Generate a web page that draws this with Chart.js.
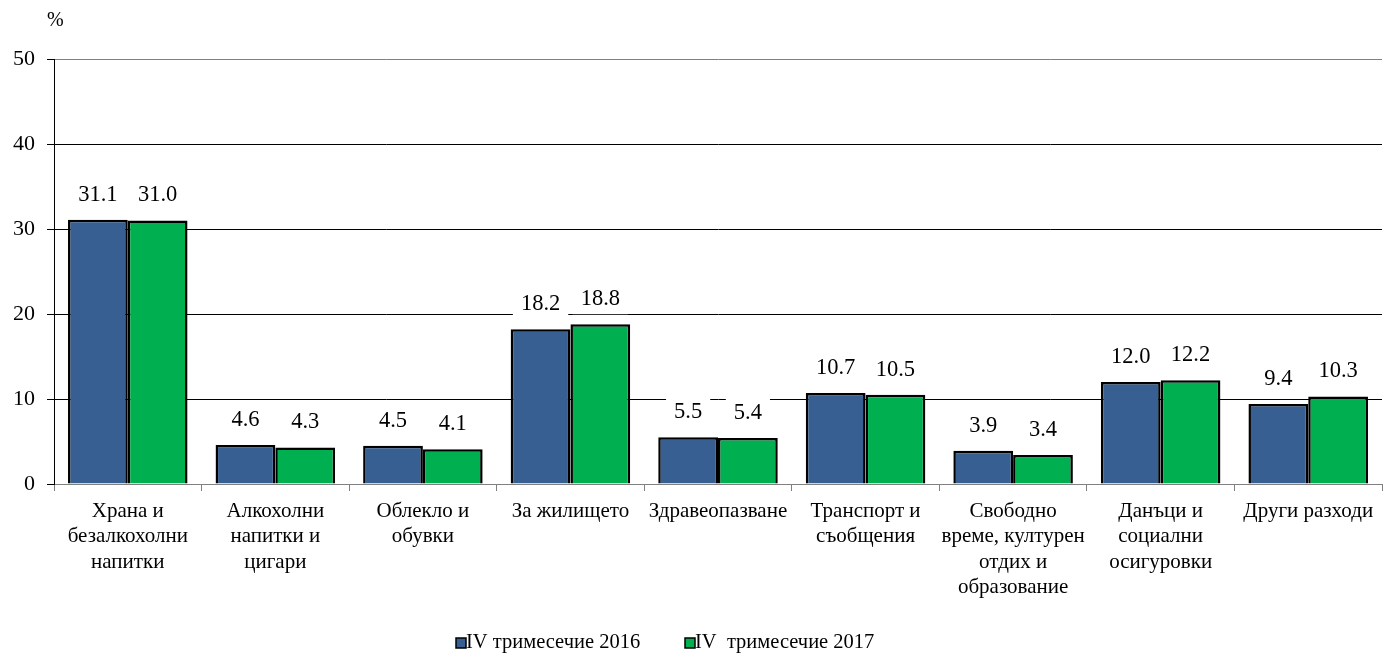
<!DOCTYPE html>
<html>
<head>
<meta charset="utf-8">
<script src="https://cdn.jsdelivr.net/npm/chart.js@4.4.1/dist/chart.umd.min.js"></script>
<style>
  html, body { margin: 0; padding: 0; background: #fff; }
  #wrap { width: 1383px; height: 664px; }
</style>
</head>
<body>
<div id="wrap"><canvas id="c" width="1383" height="664"></canvas></div>
<script>
// Household expenditure structure, Q4 2016 vs Q4 2017 (%).
const categories = [
  ['Храна и', 'безалкохолни', 'напитки'],
  ['Алкохолни', 'напитки и', 'цигари'],
  ['Облекло и', 'обувки'],
  ['За жилището'],
  ['Здравеопазване'],
  ['Транспорт и', 'съобщения'],
  ['Свободно', 'време, културен', 'отдих и', 'образование'],
  ['Данъци и', 'социални', 'осигуровки'],
  ['Други разходи'],
];
const q4_2016 = [31.1, 4.6, 4.5, 18.2, 5.5, 10.7, 3.9, 12.0, 9.4];
const q4_2017 = [31.0, 4.3, 4.1, 18.8, 5.4, 10.5, 3.4, 12.2, 10.3];
const seriesNames = ['IV тримесечие 2016', 'IV  тримесечие 2017'];
const yTicks = [0, 10, 20, 30, 40, 50];

const FONT = '"Liberation Serif", "Times New Roman", serif';
const BLUE = '#375F91';
const GREEN = '#00B050';

// value labels on a white box, drawn over the gridlines
const valueLabels = {
  id: 'valueLabels',
  afterDatasetsDraw(chart) {
    const ctx = chart.ctx;
    ctx.save();
    ctx.font = `22.5px ${FONT}`;
    ctx.textAlign = 'center';
    ctx.textBaseline = 'middle';
    chart.data.datasets.forEach((ds, di) => {
      chart.getDatasetMeta(di).data.forEach((bar, i) => {
        const txt = ds.data[i].toFixed(1);
        const w = ctx.measureText(txt).width + 16;
        const y = bar.y - 25;
        ctx.fillStyle = '#fff';
        ctx.fillRect(bar.x - w / 2, y - 15, w, 30);
      });
    });
    chart.data.datasets.forEach((ds, di) => {
      chart.getDatasetMeta(di).data.forEach((bar, i) => {
        ctx.fillStyle = '#000';
        ctx.fillText(ds.data[i].toFixed(1), bar.x, bar.y - 25);
      });
    });
    ctx.restore();
  },
};

// "%" unit label and the bottom legend
const extras = {
  id: 'extras',
  afterDraw(chart) {
    const ctx = chart.ctx;
    ctx.save();
    ctx.fillStyle = '#000';
    ctx.font = `20px ${FONT}`;
    ctx.textBaseline = 'middle';
    ctx.textAlign = 'left';
    ctx.fillText('%', 47, 21);

    ctx.font = `20.5px ${FONT}`;
    const starts = [456, 685];
    chart.data.datasets.forEach((ds, i) => {
      const x = starts[i];
      const y = 643;
      ctx.fillStyle = ds.backgroundColor;
      ctx.fillRect(x, y - 5, 10, 10);
      ctx.strokeStyle = '#000';
      ctx.lineWidth = 1.5;
      ctx.strokeRect(x, y - 5, 10, 10);
      ctx.fillStyle = '#000';
      ctx.fillText(ds.label, x + 10, y);
    });
    ctx.restore();
  },
};

new Chart(document.getElementById('c'), {
  type: 'bar',
  data: {
    labels: categories,
    datasets: [
      { label: seriesNames[0], data: q4_2016, backgroundColor: BLUE, borderColor: '#000', borderWidth: 2.5 },
      { label: seriesNames[1], data: q4_2017, backgroundColor: GREEN, borderColor: '#000', borderWidth: 2.5 },
    ],
  },
  options: {
    responsive: false,
    animation: false,
    events: [],
    datasets: { bar: { categoryPercentage: 0.81, barPercentage: 1.0 } },
    layout: { padding: { top: 59, right: 1, bottom: 0, left: 0 } },
    plugins: { legend: { display: false }, tooltip: { enabled: false } },
    scales: {
      x: {
        offset: true,
        grid: { offset: true, drawOnChartArea: false, tickLength: 7, color: '#808080' },
        border: { color: '#808080', width: 1 },
        ticks: { color: '#000', font: { family: FONT, size: 21, lineHeight: 1.2 }, padding: 8, maxRotation: 0, autoSkip: false },
        afterFit: (s) => { s.height = 180; },
      },
      y: {
        min: 0, max: 50,
        afterBuildTicks: (s) => { s.ticks = yTicks.map((v) => ({ value: v })); },
        grid: {
          color: (c) => (c.tick.value === 50 || c.tick.value === 0 ? '#808080' : '#000'),
          tickColor: '#000', tickLength: 7, lineWidth: 1,
        },
        border: { color: '#000', width: 1 },
        ticks: { color: '#000', font: { family: FONT, size: 22 }, padding: 12 },
        afterFit: (s) => { s.width = 54; },
      },
    },
  },
  plugins: [valueLabels, extras],
});
</script>
</body>
</html>
